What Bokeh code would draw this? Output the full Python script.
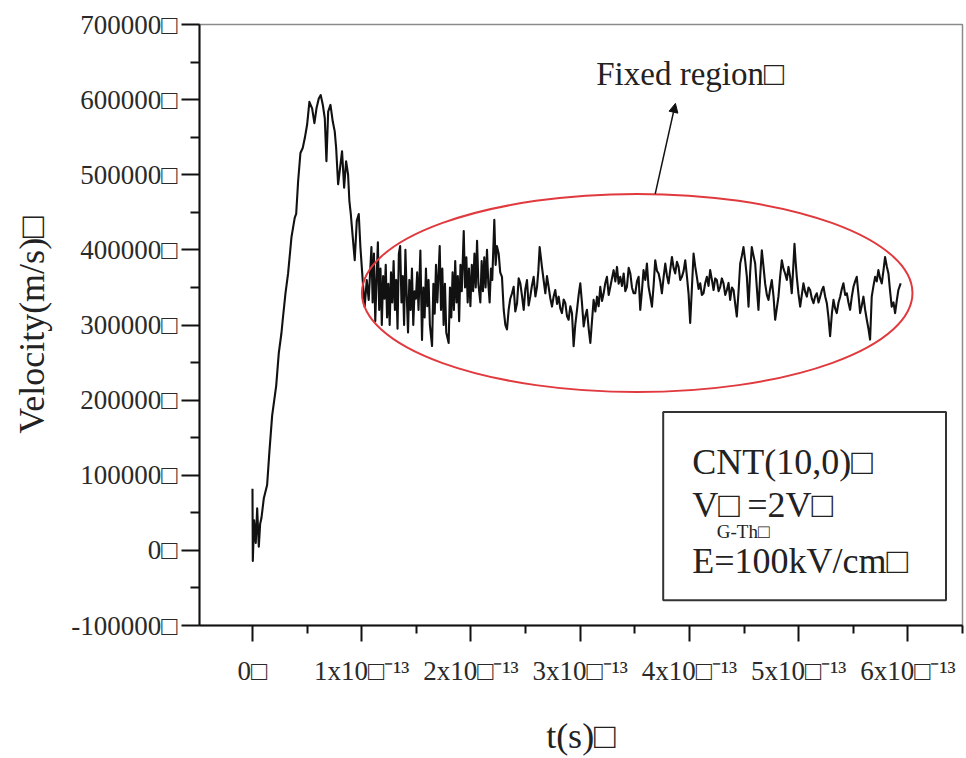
from bokeh.plotting import figure
from bokeh.models import Range1d, FixedTicker, Label, Arrow, NormalHead, BoxAnnotation
from bokeh.embed import file_html
from bokeh.resources import INLINE

# ---- data: time in units of 1e-13 s, velocity in m/s ----
rise_t = [0.000, 0.003, 0.015, 0.030, 0.043, 0.058, 0.070, 0.082,
          0.104, 0.134, 0.155, 0.180, 0.217, 0.241, 0.265, 0.277,
          0.302, 0.326, 0.357, 0.387, 0.400, 0.418, 0.439, 0.460,
          0.479, 0.500, 0.521, 0.546, 0.567, 0.586, 0.607, 0.625,
          0.644, 0.662, 0.677, 0.693, 0.714, 0.735, 0.753, 0.766,
          0.784, 0.802, 0.820, 0.839, 0.857, 0.875, 0.887, 0.900,
          0.918, 0.936, 0.955, 0.973, 0.988, 1.009, 1.027, 1.046,
          1.064, 1.089]
rise_v = [82000, -14000, 40000, 10000, 56000, 5000, 35000, 43000,
          69500, 87000, 131500, 179400, 219000, 263000, 289000, 307000,
          342000, 368600, 417000, 443000, 447800, 491700, 529000, 535600,
          548800, 566500, 597000, 588400, 568600, 588400, 601600, 606000,
          592900, 575200, 518000, 584000, 593000, 570800, 557700, 535600,
          487300, 509200, 531300, 482800, 518000, 500500, 465300, 447800,
          417000, 386200, 438900, 447800, 403700, 359800, 324500, 359800,
          333400, 403700]

dense = [(1.100, 330000), (1.112, 395000), (1.124, 305000), (1.136, 360000), (1.148, 410000),
         (1.160, 320000), (1.172, 375000), (1.184, 300000), (1.196, 365000), (1.208, 335000),
         (1.220, 380000), (1.232, 310000), (1.244, 355000), (1.256, 300000), (1.268, 370000),
         (1.280, 330000), (1.292, 385000), (1.304, 320000), (1.316, 360000), (1.328, 295000),
         (1.340, 395000), (1.352, 405000), (1.364, 330000), (1.376, 365000), (1.388, 300000),
         (1.400, 400000), (1.412, 340000), (1.424, 290000), (1.436, 360000), (1.448, 320000),
         (1.460, 375000), (1.472, 300000), (1.484, 345000), (1.496, 335000), (1.508, 370000),
         (1.520, 320000), (1.537, 399000), (1.552, 280000), (1.564, 350000), (1.576, 310000),
         (1.588, 375000), (1.600, 325000), (1.612, 360000), (1.624, 300000), (1.644, 272000),
         (1.656, 355000), (1.668, 315000), (1.680, 380000), (1.692, 330000), (1.704, 370000),
         (1.714, 405000), (1.726, 320000), (1.738, 375000), (1.750, 300000), (1.762, 355000),
         (1.774, 290000), (1.796, 276000), (1.808, 350000), (1.820, 310000), (1.832, 370000),
         (1.844, 320000), (1.856, 385000), (1.868, 330000), (1.880, 365000), (1.892, 305000),
         (1.904, 380000), (1.916, 345000), (1.934, 425000), (1.946, 350000), (1.958, 390000),
         (1.970, 330000), (1.982, 375000), (1.995, 325000), (2.008, 380000), (2.020, 345000),
         (2.032, 395000), (2.044, 350000), (2.056, 412000), (2.068, 355000), (2.086, 330000),
         (2.098, 385000), (2.110, 345000), (2.122, 390000), (2.134, 350000), (2.147, 400000),
         (2.159, 355000), (2.171, 330000), (2.183, 375000), (2.195, 360000), (2.214, 440000),
         (2.226, 380000), (2.238, 405000), (2.254, 395000), (2.268, 370000), (2.284, 364000),
         (2.300, 320000), (2.315, 300000), (2.330, 294000)]

middle = [(2.345, 320200), (2.360, 335000), (2.376, 342200), (2.391, 350900), (2.406, 318000),
          (2.422, 329000), (2.437, 362000), (2.452, 355400), (2.468, 338000), (2.483, 320200),
          (2.498, 348000), (2.513, 359800), (2.528, 326000), (2.543, 337700), (2.558, 352000),
          (2.574, 364100), (2.590, 338000), (2.605, 350900), (2.617, 372000), (2.629, 403700),
          (2.640, 390000), (2.650, 377300), (2.665, 360000), (2.681, 342200), (2.696, 365000),
          (2.711, 350900), (2.726, 336000), (2.742, 324500), (2.757, 338000), (2.772, 346600),
          (2.788, 328000), (2.803, 337700), (2.818, 322000), (2.833, 315800), (2.849, 334000),
          (2.864, 329000), (2.879, 312000), (2.894, 307000), (2.910, 325000), (2.925, 315800),
          (2.940, 271800), (2.955, 300000), (2.971, 320200), (2.986, 340000), (3.001, 355400),
          (3.016, 330000), (3.032, 298200), (3.047, 312000), (3.062, 320200), (3.078, 295000),
          (3.093, 276200), (3.108, 305000), (3.123, 333400), (3.139, 318000), (3.154, 337700),
          (3.169, 325000), (3.184, 350900), (3.200, 332000), (3.215, 342200), (3.230, 356000),
          (3.245, 364100), (3.261, 340000), (3.276, 350900), (3.291, 362000), (3.306, 373000),
          (3.322, 358000), (3.337, 377300), (3.352, 355000), (3.367, 364100), (3.383, 352000),
          (3.398, 368600), (3.413, 345000), (3.428, 350900), (3.444, 376000), (3.459, 368600),
          (3.474, 350000), (3.489, 342200)]

late = [(3.504, 342200), (3.520, 358000), (3.535, 364100), (3.550, 320200), (3.565, 345000),
        (3.580, 373000), (3.596, 360000), (3.611, 381800), (3.626, 350900), (3.642, 338000),
        (3.657, 324500), (3.672, 352000), (3.687, 386200), (3.703, 372000), (3.718, 368600),
        (3.733, 358000), (3.748, 342200), (3.764, 364000), (3.779, 381800), (3.794, 366000),
        (3.809, 355400), (3.825, 374000), (3.840, 390500), (3.855, 376000), (3.870, 368600),
        (3.886, 384000), (3.901, 377300), (3.916, 360000), (3.931, 364100), (3.947, 372000),
        (3.962, 386200), (3.977, 365000), (3.992, 342200), (4.007, 302600), (4.023, 350000),
        (4.038, 395000), (4.053, 378000), (4.068, 364100), (4.084, 348000), (4.099, 355400),
        (4.114, 340000), (4.129, 342200), (4.145, 356000), (4.160, 364100), (4.175, 352000),
        (4.190, 373000), (4.206, 360000), (4.221, 346600), (4.236, 362000), (4.251, 359800),
        (4.267, 345000), (4.282, 350900), (4.297, 362000), (4.312, 355400), (4.328, 340000),
        (4.343, 346600), (4.358, 356000), (4.373, 333400), (4.389, 350000), (4.404, 346600),
        (4.419, 328000), (4.434, 311300), (4.450, 345000), (4.465, 381800), (4.480, 392000),
        (4.495, 403700), (4.511, 385000), (4.526, 364100), (4.541, 324500), (4.556, 370000),
        (4.571, 403700), (4.587, 392000), (4.602, 381800), (4.617, 350000), (4.632, 320200),
        (4.648, 365000), (4.663, 399300), (4.678, 378000), (4.693, 355400), (4.709, 340000),
        (4.724, 333400), (4.739, 348000), (4.754, 359800), (4.770, 338000), (4.785, 307000),
        (4.800, 322000), (4.815, 337700), (4.831, 365000), (4.846, 386200), (4.861, 375000),
        (4.876, 368600), (4.892, 360000), (4.907, 377300), (4.922, 364000), (4.937, 342200),
        (4.950, 375000), (4.962, 408200), (4.972, 385000), (4.983, 364100), (4.998, 342000),
        (5.014, 324500), (5.029, 340000), (5.044, 355400), (5.060, 344000), (5.075, 337700),
        (5.090, 350000), (5.105, 346600), (5.121, 335000), (5.136, 329000), (5.151, 338000),
        (5.166, 342200), (5.182, 330000), (5.197, 337700), (5.212, 346000), (5.227, 350900),
        (5.243, 338000), (5.258, 329000), (5.273, 310000), (5.288, 285000), (5.304, 315000),
        (5.319, 333400), (5.334, 322000), (5.349, 315800), (5.365, 330000), (5.380, 337700),
        (5.395, 348000), (5.410, 355400), (5.426, 340000), (5.441, 342200), (5.456, 330000),
        (5.471, 320200), (5.487, 338000), (5.502, 350900), (5.517, 358000), (5.532, 364100),
        (5.548, 340000), (5.563, 315800), (5.578, 326000), (5.593, 337700), (5.609, 320000),
        (5.624, 307000), (5.639, 295000), (5.654, 280600), (5.669, 337700), (5.685, 352000),
        (5.700, 364100), (5.715, 358000), (5.730, 373000), (5.746, 362000), (5.761, 355400),
        (5.776, 372000), (5.791, 390500), (5.807, 378000), (5.822, 368600), (5.837, 345000),
        (5.852, 324500), (5.868, 330000), (5.883, 315800), (5.898, 332000), (5.913, 346600),
        (5.934, 355400)]

x_ticks = [0, 1, 2, 3, 4, 5, 6]
x_tick_labels = ["0\u25a1", "1x10\u25a1\u207b\u00b9\u00b3", "2x10\u25a1\u207b\u00b9\u00b3",
                 "3x10\u25a1\u207b\u00b9\u00b3", "4x10\u25a1\u207b\u00b9\u00b3",
                 "5x10\u25a1\u207b\u00b9\u00b3", "6x10\u25a1\u207b\u00b9\u00b3"]
y_ticks = [-100000, 0, 100000, 200000, 300000, 400000, 500000, 600000, 700000]
y_tick_labels = ["-100000\u25a1", "0\u25a1", "100000\u25a1", "200000\u25a1", "300000\u25a1",
                 "400000\u25a1", "500000\u25a1", "600000\u25a1", "700000\u25a1"]

t_all = list(rise_t) + [a for a, _ in dense] + [a for a, _ in middle] + [a for a, _ in late]
v_all = list(rise_v) + [b for _, b in dense] + [b for _, b in middle] + [b for _, b in late]

SERIF = "Liberation Serif"

p = figure(width=966, height=758, output_backend="svg", toolbar_location=None,
           x_range=Range1d(-0.485, 6.5), y_range=Range1d(-100000, 700000),
           min_border_left=199, min_border_right=4, min_border_top=24, min_border_bottom=129)
p.background_fill_color = "white"
p.border_fill_color = "white"
p.xgrid.visible = False
p.ygrid.visible = False
p.outline_line_color = "#8a8a8a"
p.outline_line_width = 1.5

p.line(t_all, v_all, line_color="#111111", line_width=2.1, line_join="round")

# fixed-region ellipse
p.ellipse(x=[3.522], y=[342600], width=[5.04], height=[263900],
          fill_color=None, line_color="#e0393e", line_width=2)

p.add_layout(Arrow(end=NormalHead(size=9, fill_color="#111111", line_color="#111111"),
                   x_start=3.687, y_start=474500, x_end=3.872, y_end=595000,
                   line_color="#111111", line_width=1.5))
p.add_layout(Label(x=3.147, y=634200, text="Fixed region\u25a1", text_font=SERIF,
                   text_font_size="33px", text_baseline="middle", text_color="#222222"))

p.add_layout(BoxAnnotation(left=3.76, right=6.349, top=184300, bottom=-66400,
                           fill_color="white", fill_alpha=1.0,
                           line_color="#333333", line_width=2, line_alpha=1.0))
p.add_layout(Label(x=4.026, y=118300, text="CNT(10,0)\u25a1", text_font=SERIF,
                   text_font_size="36px", text_baseline="middle", text_color="#222222"))
p.add_layout(Label(x=4.026, y=60300, text="V\u25a1", text_font=SERIF,
                   text_font_size="36px", text_baseline="middle", text_color="#222222"))
p.add_layout(Label(x=4.25, y=25000, text="G-Th\u25a1", text_font=SERIF,
                   text_font_size="19px", text_baseline="middle", text_color="#222222"))
p.add_layout(Label(x=4.53, y=60300, text="=2V\u25a1", text_font=SERIF,
                   text_font_size="36px", text_baseline="middle", text_color="#222222"))
p.add_layout(Label(x=4.026, y=-13600, text="E=100kV/cm\u25a1", text_font=SERIF,
                   text_font_size="36px", text_baseline="middle", text_color="#222222"))

# axes
xa = p.xaxis[0]
xa.ticker = FixedTicker(ticks=x_ticks, minor_ticks=[-0.5, 0.5, 1.5, 2.5, 3.5, 4.5, 5.5, 6.5])
xa.major_label_overrides = {k: s for k, s in zip(x_ticks, x_tick_labels)}
xa.axis_label = "t(s)\u25a1"
ya = p.yaxis[0]
ya.ticker = FixedTicker(ticks=y_ticks, minor_ticks=[-50000, 50000, 150000, 250000, 350000,
                                                     450000, 550000, 650000])
ya.major_label_overrides = {k: s for k, s in zip(y_ticks, y_tick_labels)}
ya.axis_label = "Velocity(m/s)\u25a1"

for ax in (xa, ya):
    ax.axis_line_color = "#111111"
    ax.axis_line_width = 2
    ax.major_tick_line_color = "#111111"
    ax.major_tick_line_width = 2
    ax.minor_tick_line_color = "#111111"
    ax.minor_tick_line_width = 2
    ax.major_tick_in = 0
    ax.minor_tick_in = 0
    ax.major_label_text_font = SERIF
    ax.major_label_text_font_size = "27px"
    ax.major_label_text_color = "#2a2a2a"
    ax.axis_label_text_font = SERIF
    ax.axis_label_text_font_size = "36px"
    ax.axis_label_text_font_style = "normal"
    ax.axis_label_text_color = "#222222"

xa.major_tick_out = 16
xa.minor_tick_out = 8
xa.major_label_standoff = 14
xa.axis_label_standoff = 27
ya.major_tick_out = 18
ya.minor_tick_out = 9
ya.major_label_standoff = 4
ya.axis_label_standoff = 16

open("out.html", "w").write(file_html(p, INLINE))
